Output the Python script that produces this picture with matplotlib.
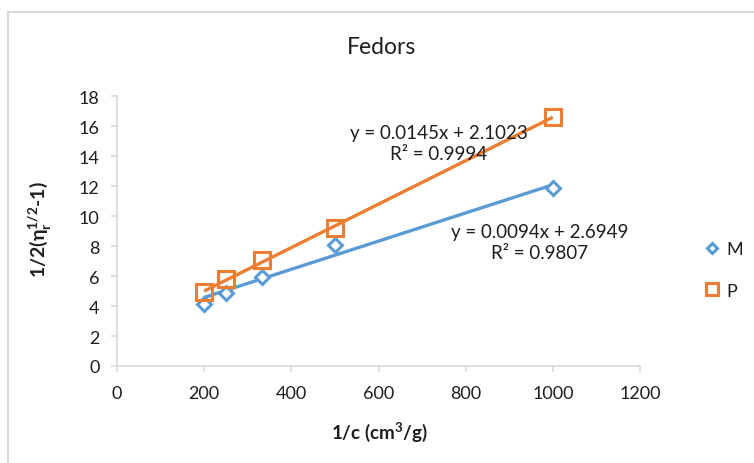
import numpy as np
import matplotlib.pyplot as plt
from matplotlib.lines import Line2D
from matplotlib.patches import Rectangle

plt.rcParams['font.family'] = ['Lato', 'DejaVu Sans']
plt.rcParams['mathtext.fontset'] = 'custom'
plt.rcParams['mathtext.rm'] = 'Lato'
plt.rcParams['mathtext.bf'] = 'Lato:bold'

# 1/c values and reduced viscosity terms for the two samples
inv_c = [200, 250, 333.33, 500, 1000]
m_vals = [4.13, 4.85, 5.95, 8.08, 11.91]
p_vals = [4.91, 5.80, 7.07, 9.24, 16.60]

# linear trendline coefficients (slope, intercept, R^2)
m_fit = (0.0094, 2.6949, 0.9807)
p_fit = (0.0145, 2.1023, 0.9994)

blue = '#5B9BD5'
orange = '#ED7D31'
grey = '#d9d9d9'
txt = '#1e1e1e'

W, H = 754, 464
fig = plt.figure(figsize=(W / 100, H / 100), dpi=100)
ax = fig.add_axes([117 / W, (H - 367) / H, (640 - 117) / W, (367 - 97.3) / H])

xs = np.array([min(inv_c), max(inv_c)])
for slope, icpt, col in [(m_fit[0], m_fit[1], blue), (p_fit[0], p_fit[1], orange)]:
    ax.plot(xs, slope * xs + icpt, color=col, lw=2.4, solid_capstyle='butt', zorder=2)

ax.plot(inv_c, m_vals, ls='none', marker='D', ms=6.8, mfc='white', mec=blue, mew=2.2, zorder=3)
ax.plot(inv_c, p_vals, ls='none', marker='s', ms=11, mfc='none', mec=orange, mew=2.2, zorder=3)

ax.set_xlim(0, 1200)
ax.set_ylim(0, 18)
ax.set_xticks(range(0, 1201, 200))
ax.set_yticks(range(0, 19, 2))
for s in ['top', 'right']:
    ax.spines[s].set_visible(False)
for s in ['left', 'bottom']:
    ax.spines[s].set_color(grey)
    ax.spines[s].set_linewidth(1.2)
ax.tick_params(axis='both', colors=grey, labelcolor=txt, labelsize=13, length=4.5, width=1.2)
ax.tick_params(axis='y', pad=8)
ax.tick_params(axis='x', pad=9)

fig.text(382 / W, 1 - 48 / H, 'Fedors', ha='center', va='center', fontsize=16.5, color=txt)
fig.text(379 / W, 1 - 432 / H, '1/c (cm$^\\mathbf{3}$/g)', ha='center', va='center',
         fontsize=13.5, fontweight='bold', color=txt)
fig.text(40 / W, 1 - 230 / H, '1/2(η$_\\mathbf{r}^\\mathbf{1/2}$-1)', ha='center', va='center',
         rotation=90, fontsize=14, fontweight='bold', color=txt)

# trendline equations
fig.text(439 / W, 1 - 144 / H, 'y = %.4fx + %.4f\nR² = %.4f' % p_fit, ha='center', va='center',
         fontsize=13.5, color=txt, linespacing=1.35)
fig.text(540 / W, 1 - 243 / H, 'y = %.4fx + %.4f\nR² = %.4f' % m_fit, ha='center', va='center',
         fontsize=13.5, color=txt, linespacing=1.35)

handles = [
    Line2D([], [], ls='none', marker='D', ms=5, mfc='white', mec=blue, mew=2.2),
    Line2D([], [], ls='none', marker='s', ms=8, mfc='white', mec=orange, mew=2.2),
]
fig.legend(handles, ['M', 'P'], loc='center left', bbox_to_anchor=(694 / W, 1 - 271 / H),
           frameon=False, fontsize=13, handlelength=1.0, handletextpad=0.3,
           labelspacing=1.4, borderpad=0, labelcolor=txt)

fig.patches.append(Rectangle((8 / W, -0.1), 1.1, 1.1 - 13 / H, transform=fig.transFigure,
                             fill=False, ec=grey, lw=1.5))

fig.savefig('out.png', dpi=100)
